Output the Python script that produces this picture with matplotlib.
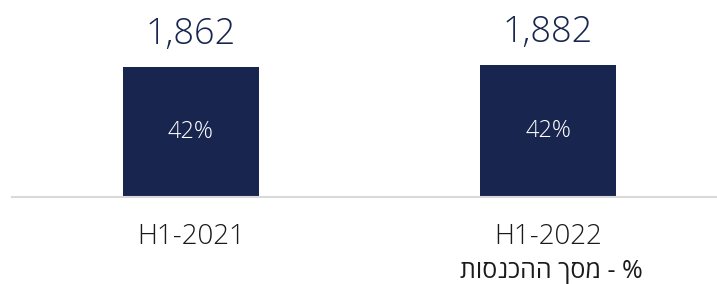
import matplotlib
matplotlib.use("Agg")
import matplotlib.pyplot as plt

## chart data
periods = ["H1-2021", "H1-2022"]
revenue = [1862, 1882]
share_labels = ["42%", "42%"]
# hebrew note, written in visual order since matplotlib has no bidi
note_text = "תוסנכהה ךסמ - %"

navy = "#18264f"
plt.rcParams["font.family"] = ["Open Sans", "DejaVu Sans"]

fig = plt.figure(figsize=(7.17, 2.84), dpi=100)
ax = fig.add_axes([12 / 717, 87 / 284, 705 / 717, 197 / 284])

x = list(range(len(periods)))
ax.bar(x, revenue, width=0.381, color=navy)
ax.set_xlim(-0.501, 1.473)
ax.set_ylim(0, 2815)

for i in x:
	ax.annotate(f"{revenue[i]:,}", (i, revenue[i]), xytext=(0, 16.5),
				textcoords="offset points", ha="center", va="baseline",
				fontsize=26, color=navy, fontweight="light")
	ax.text(i, revenue[i] / 2, share_labels[i], ha="center", va="center",
			fontsize=17, color="white", fontweight="light")
	ax.annotate(periods[i], (i, 0), xytext=(0, -34), textcoords="offset points",
				ha="center", va="baseline", fontsize=20, color="#1a1a1a",
				fontweight="light")

# regular weight here: the light cut has no hebrew glyphs
ax.annotate(note_text, (1.01, 0), xytext=(0, -58), textcoords="offset points",
			ha="center", va="baseline", fontsize=18, color="#1a1a1a")

for side in ["top", "left", "right"]:
	ax.spines[side].set_visible(False)
ax.spines["bottom"].set_color("#d9d9d9")
ax.spines["bottom"].set_linewidth(1.5)
ax.set_xticks([])
ax.set_yticks([])

fig.savefig("out.png", dpi=100)
